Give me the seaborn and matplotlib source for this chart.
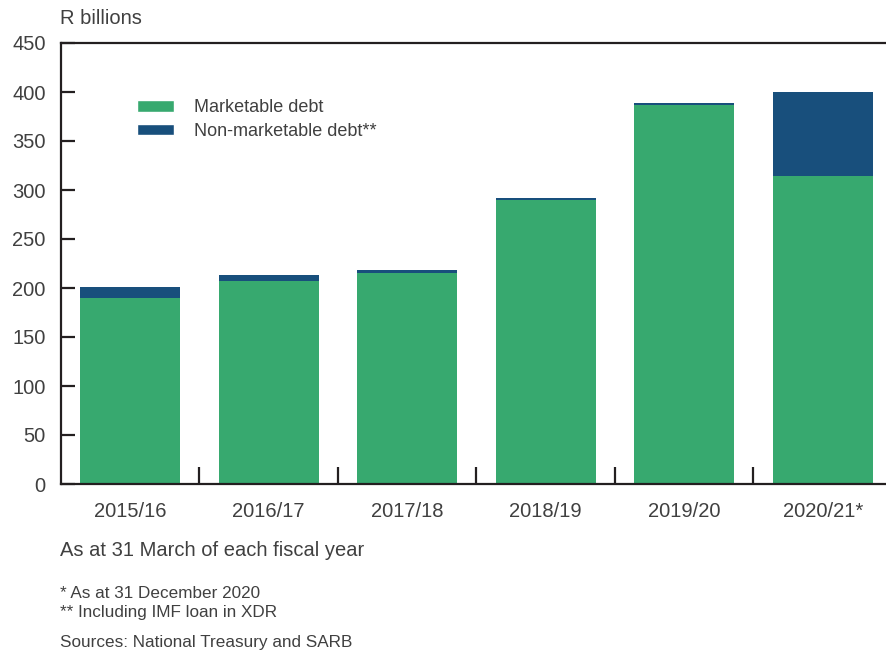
import matplotlib
matplotlib.use("Agg")
import matplotlib.pyplot as plt
import seaborn as sns
import pandas as pd
from matplotlib.patches import Patch

# Data (R billions, as at 31 March of each fiscal year)
years = ["2015/16", "2016/17", "2017/18", "2018/19", "2019/20", "2020/21*"]
marketable = [190, 207, 215, 290, 387, 314]
non_marketable = [11, 6, 3, 2, 1.5, 86]

green = "#37a96f"
blue = "#184f7c"
text_color = "#404040"
axis_color = "#231f20"

df = pd.DataFrame({"year": years, "marketable": marketable, "non_marketable": non_marketable})
df["total"] = df["marketable"] + df["non_marketable"]

sns.set_style("white")
plt.rcParams["font.family"] = ["Liberation Sans", "DejaVu Sans"]

fig = plt.figure(figsize=(8.86, 6.52), dpi=100)
ax = fig.add_axes([61 / 886, 1 - 484 / 652, 825 / 886, 441 / 652])

# Stacked bars: totals in blue underneath, marketable in green on top
sns.barplot(data=df, x="year", y="total", color=blue, width=0.72, saturation=1,
            linewidth=0, ax=ax)
sns.barplot(data=df, x="year", y="marketable", color=green, width=0.72, saturation=1,
            linewidth=0, ax=ax)

ax.set_ylim(0, 450)
ax.set_xlim(-0.5, 5.457)
ax.set_yticks(range(0, 451, 50))
ax.set_xlabel("")
ax.set_ylabel("")

# spines
for side in ["left", "bottom", "top"]:
    ax.spines[side].set_visible(True)
    ax.spines[side].set_color(axis_color)
    ax.spines[side].set_linewidth(1.6)
    ax.spines[side].set_zorder(5)
ax.spines["right"].set_visible(False)

ax.tick_params(axis="y", left=True, direction="in", length=10, width=1.6, color=axis_color,
               labelsize=14.5, labelcolor=text_color, pad=11)
ax.tick_params(axis="x", which="major", bottom=True, length=0, labelsize=14.5,
               labelcolor=text_color, pad=13)
# x ticks between categories
ax.set_xticks([0.5, 1.5, 2.5, 3.5, 4.5], minor=True)
ax.tick_params(axis="x", which="minor", bottom=True, direction="in", length=12, width=1.6,
               color=axis_color)

# legend
handles = [Patch(facecolor=green, label="Marketable debt"),
           Patch(facecolor=blue, label="Non-marketable debt**")]
leg = ax.legend(handles=handles, loc="upper left", bbox_to_anchor=(0.092, 0.872),
                frameon=False, fontsize=13, handlelength=2.05, handleheight=0.58,
                handletextpad=1.1, labelspacing=0.35, borderpad=0, borderaxespad=0)
for t in leg.get_texts():
    t.set_color(text_color)

# texts
fig.text(60 / 886, 1 - 19 / 652, "R billions", fontsize=14.5, color=text_color, va="center")
fig.text(60 / 886, 1 - 550 / 652, "As at 31 March of each fiscal year", fontsize=14.5,
         color=text_color, va="center")
fig.text(60 / 886, 1 - 593 / 652, "* As at 31 December 2020", fontsize=12.3,
         color=text_color, va="center")
fig.text(60 / 886, 1 - 613 / 652, "** Including IMF loan in XDR", fontsize=12.3,
         color=text_color, va="center")
fig.text(60 / 886, 1 - 642 / 652, "Sources: National Treasury and SARB", fontsize=12.3,
         color=text_color, va="center")

fig.savefig("out.png", dpi=100)
